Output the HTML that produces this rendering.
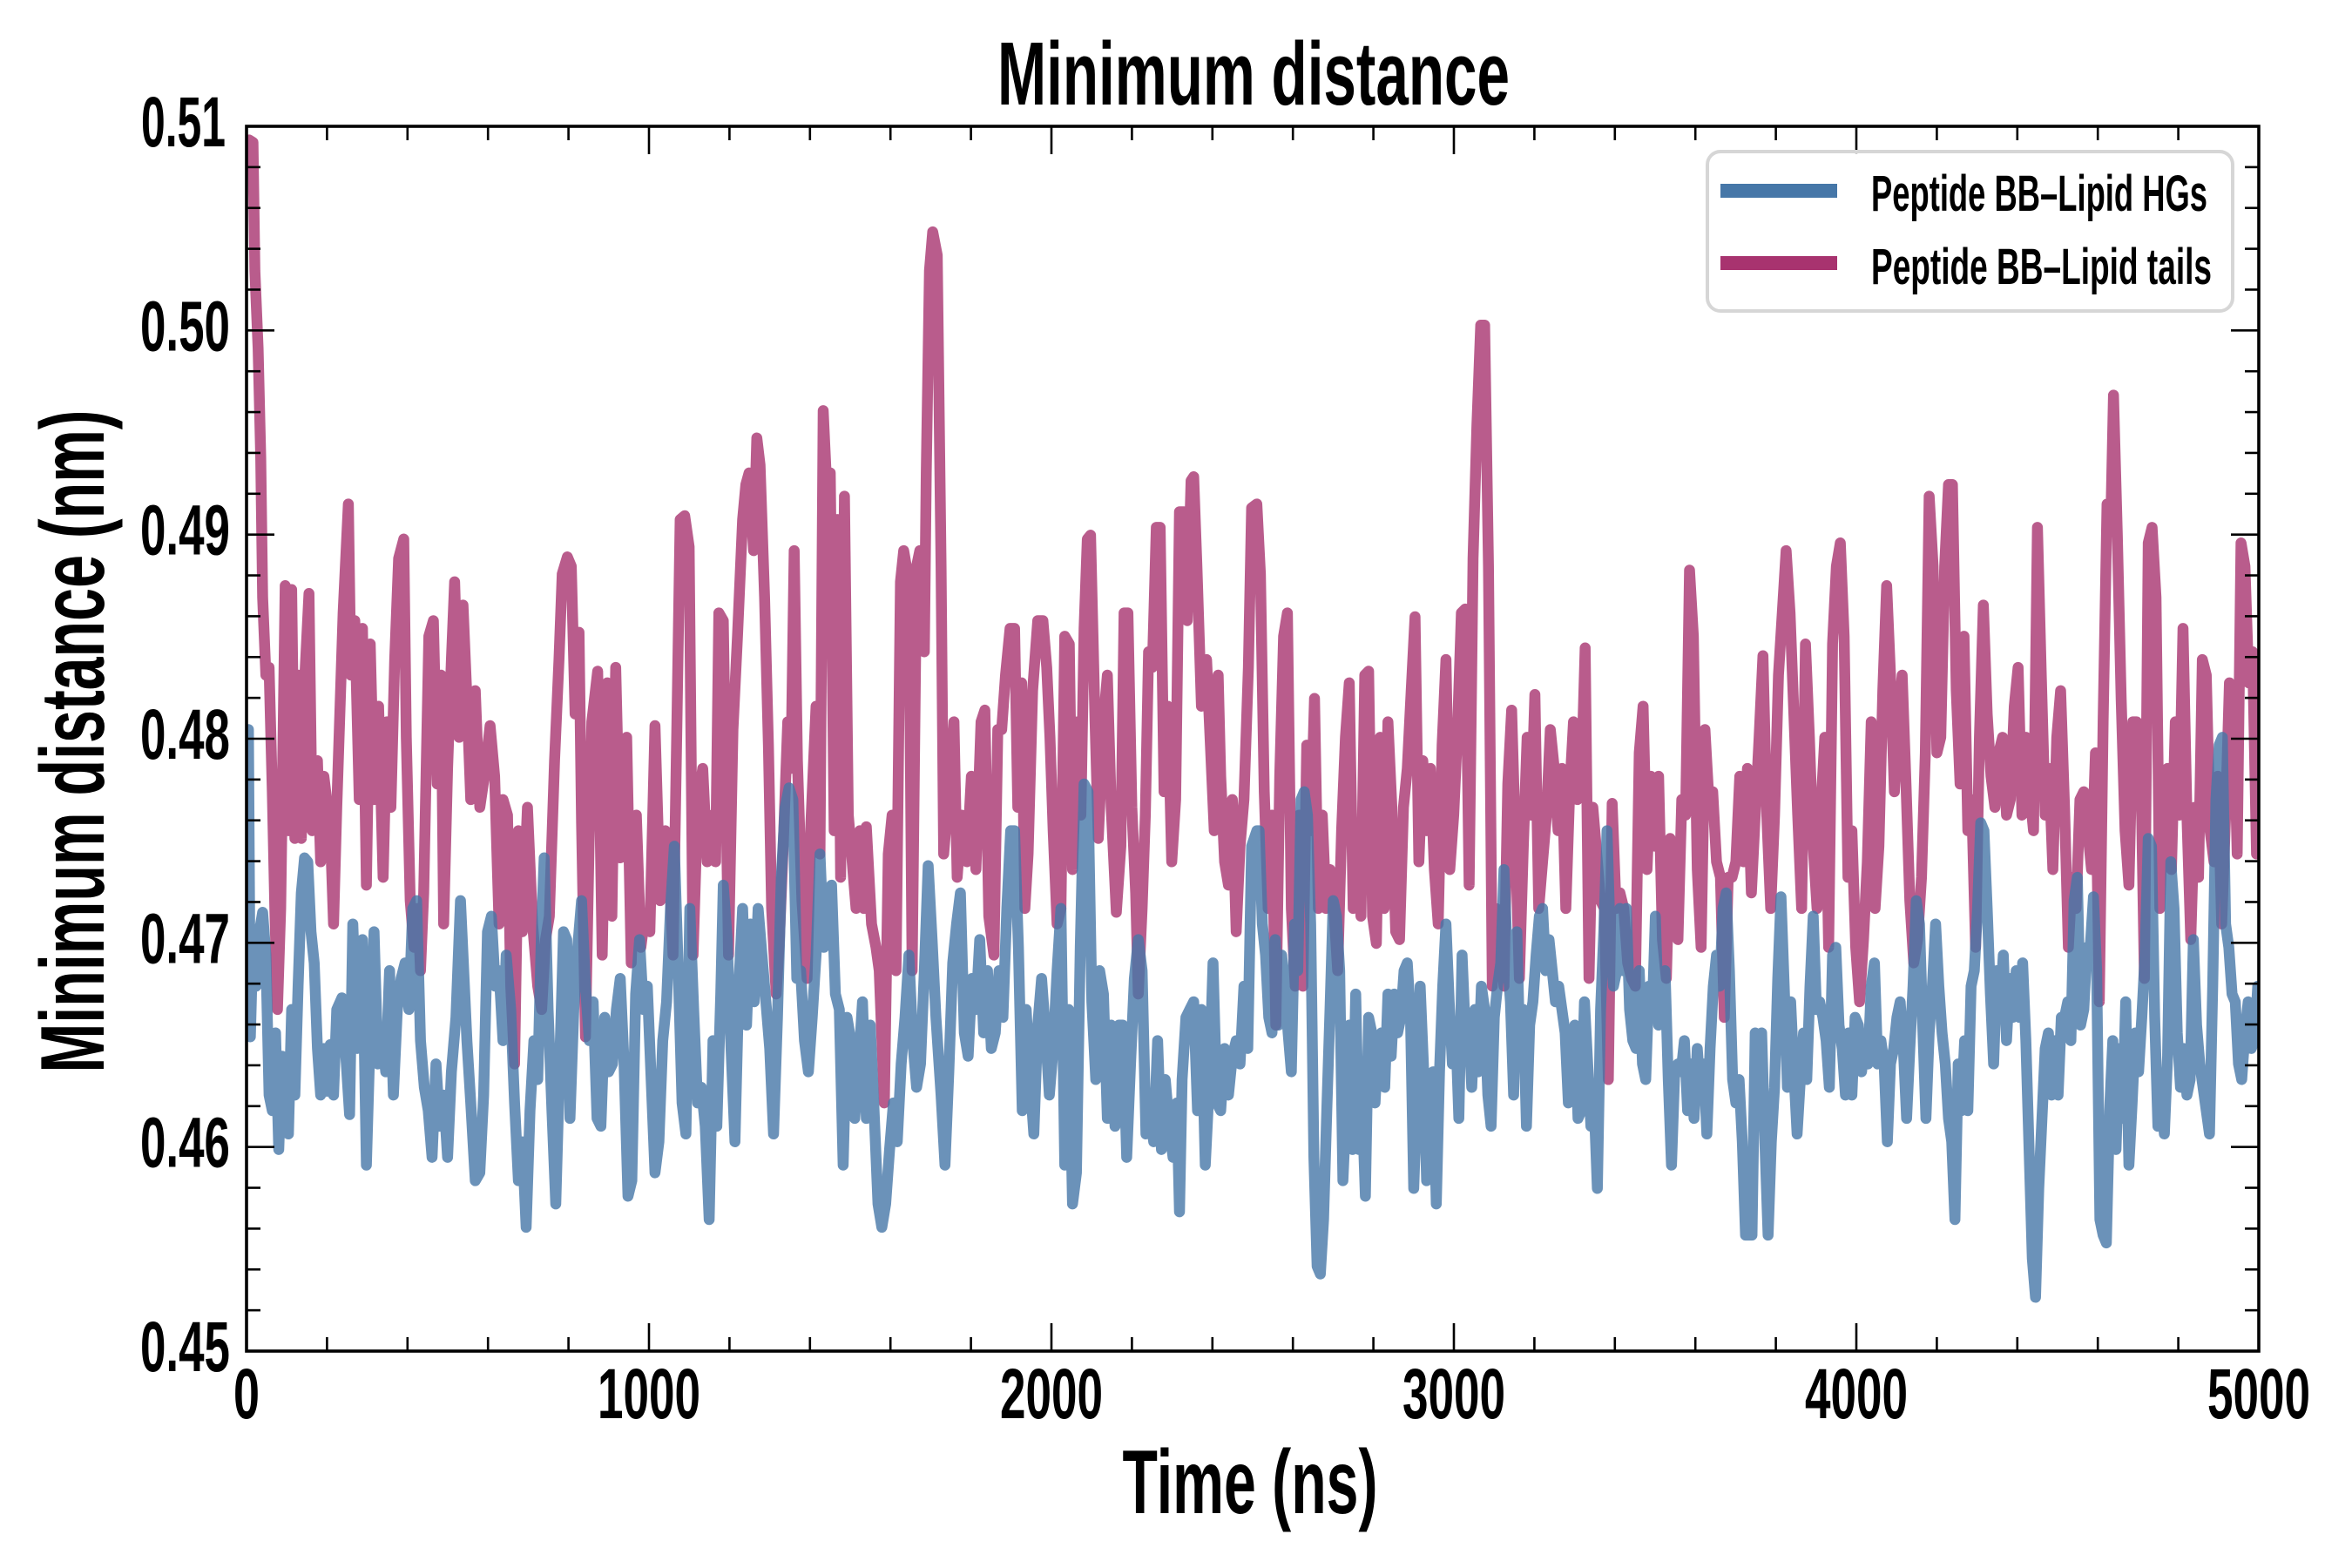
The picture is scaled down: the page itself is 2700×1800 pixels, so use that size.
<!DOCTYPE html>
<html>
<head>
<meta charset="utf-8">
<style>
html,body{margin:0;padding:0;background:#fff;}
svg{display:block;}
text{font-family:"Liberation Sans Narrow","Liberation Sans",sans-serif;font-weight:bold;fill:#000;}
</style>
</head>
<body>
<svg id="s" width="2700" height="1800" viewBox="0 0 2700 1800" xmlns="http://www.w3.org/2000/svg">
<defs><clipPath id="c"><rect x="283" y="145" width="2310" height="1406"/></clipPath></defs>
<rect width="2700" height="1800" fill="#fff"/>
<g clip-path="url(#c)">
<polyline id="pink" fill="none" stroke="#a8336f" stroke-opacity="0.8" stroke-width="12.5" stroke-linejoin="round" stroke-linecap="round" points=""/>
<polyline id="blue" fill="none" stroke="#4677a8" stroke-opacity="0.8" stroke-width="12.5" stroke-linejoin="round" stroke-linecap="round" points=""/>
</g>
<g id="ticks" stroke="#000" stroke-width="2.6"></g>
<rect x="283" y="145" width="2310" height="1406" fill="none" stroke="#000" stroke-width="3.6"/>
<!-- legend -->
<rect x="1960" y="174" width="603" height="183" rx="15" ry="15" fill="#fff" fill-opacity="0.8" stroke="#d6d6d6" stroke-width="4"/>
<rect x="1975" y="211" width="134" height="16" fill="#4677a8"/>
<rect x="1975" y="294" width="134" height="16" fill="#a8336f"/>
<text x="2148" y="242" font-size="58" textLength="386" lengthAdjust="spacingAndGlyphs">Peptide BB–Lipid HGs</text>
<text x="2148" y="326" font-size="58" textLength="391" lengthAdjust="spacingAndGlyphs">Peptide BB–Lipid tails</text>
<!-- titles -->
<text x="1439" y="120" font-size="103" text-anchor="middle" textLength="588" lengthAdjust="spacingAndGlyphs">Minimum distance</text>
<text x="1435" y="1737" font-size="104" text-anchor="middle" textLength="293" lengthAdjust="spacingAndGlyphs">Time (ns)</text>
<text transform="translate(119,851) rotate(-90)" x="0" y="0" font-size="104" text-anchor="middle" textLength="761" lengthAdjust="spacingAndGlyphs">Minimum distance (nm)</text>
<g id="labels"></g>
</svg>
<script>
(function(){
var NS="http://www.w3.org/2000/svg";
function conv(a,x0,minpx){var p=[];for(var i=0;i<a.length;i+=2){if(minpx!==undefined&&a[i]<minpx)continue;p.push((x0+a[i]/1.352).toFixed(1)+","+(150+a[i+1]/1.12).toFixed(1));}return p;}
var p9=[4,12,10,15,13,180,18,280,22,420,25,600,30,700,35,690,40,850,44,1000,48,1130,53,1000,60,585,65,900,70,590,75,910,80,700,85,910,90,710,97,595,102,900,110,810,115,940,120,830,130,900,135,1020,140,870,150,620,158,480,162,700,168,630,175,860,180,640,186,970,192,660,198,860,205,740,212,960,218,760,224,870,230,680,236,550,244,525,248,780,254,990,260,1050,266,1000,270,1080,275,980,283,650,290,630,296,840,302,700,306,1020,312,820,318,680,323,580,330,780,336,610,342,730,348,860,355,720,362,870,370,825,378,765,385,830,392,1020,398,860,405,880,410,1100,416,1200,422,900,428,1030,436,870,444,1020,452,1100,458,1130,464,1040,470,1010,478,810,485,680,490,570,498,548,504,560,510,750,516,645,520,890,526,1165,532,900,536,760,545,695,552,1060,560,710,567,1010,573,690,580,935,590,780,597,1070,605,880,612,1050,618,1010,626,1030,634,765,642,990,650,900,656,950,662,1060,668,760,673,500,680,495,687,535,693,1060,700,870,708,820,715,940,722,880,728,940,733,620,740,630,748,1060,755,770,762,650,770,500,775,455,780,440,787,540,792,395,797,430,804,600,810,790,815,1000,822,1110,827,1040,833,920,840,760,845,820,850,540,855,810,862,990,870,1090,876,890,884,740,890,930,895,360,900,450,906,440,912,900,917,500,922,960,928,470,934,880,940,940,946,1000,952,900,958,1000,962,895,970,1020,977,1050,982,1080,990,1250,996,930,1002,880,1008,1080,1015,580,1020,540,1028,580,1033,1080,1040,560,1045,540,1052,670,1055,440,1060,180,1065,130,1072,160,1078,560,1082,930,1090,850,1098,760,1103,960,1110,880,1118,940,1125,830,1132,950,1140,760,1146,745,1152,1010,1160,1060,1166,770,1172,770,1178,700,1185,640,1192,640,1197,870,1203,710,1208,1000,1213,930,1220,720,1228,630,1236,630,1242,690,1247,780,1252,900,1258,1020,1264,1000,1270,650,1277,660,1282,950,1290,760,1295,880,1300,640,1305,525,1310,520,1317,760,1322,910,1330,760,1336,700,1342,870,1350,1005,1357,920,1362,620,1368,620,1374,870,1380,980,1384,1110,1390,1000,1395,880,1400,670,1406,690,1412,510,1418,510,1424,850,1430,740,1436,940,1442,860,1448,490,1455,490,1460,630,1466,450,1470,445,1475,560,1482,740,1490,680,1496,790,1502,900,1508,700,1512,830,1518,940,1524,970,1530,860,1536,1030,1542,920,1548,860,1555,690,1560,485,1568,480];
var p10=[12,570,18,850,24,1000,30,880,36,1150,42,830,48,650,54,620,60,1000,66,1100,72,880,78,1100,84,790,90,900,96,730,102,1000,108,880,114,1000,120,950,126,1000,132,1080,138,900,144,780,150,710,156,1000,162,890,168,1010,174,700,180,695,186,1010,192,1045,198,780,204,1000,210,760,216,870,222,1030,228,1040,234,870,240,820,246,720,252,625,258,940,264,810,270,900,276,820,282,950,288,1020,294,790,300,680,306,950,312,880,318,770,324,620,330,615,336,970,342,550,348,380,354,250,360,250,366,560,372,1100,378,1000,384,1050,390,1100,396,840,402,745,408,920,414,1090,420,920,426,780,432,880,438,725,444,1000,450,940,456,880,462,770,468,820,474,900,480,820,486,1000,492,850,498,760,504,860,510,840,516,665,522,1090,528,870,534,930,540,990,546,1000,552,1220,558,865,564,1000,570,980,576,1000,582,1070,588,1090,594,1100,600,800,606,740,612,950,618,830,624,920,630,830,636,1040,642,1090,648,910,654,950,660,1040,666,860,672,880,678,565,684,650,690,950,696,1050,702,770,708,860,714,850,720,940,726,960,732,1140,738,960,744,960,750,940,756,830,762,940,768,820,774,980,780,880,786,780,792,675,798,880,804,1000,810,880,816,700,822,620,828,540,834,620,840,750,846,880,852,1000,858,660,864,780,870,920,876,1000,882,870,888,780,894,1050,900,660,906,560,912,530,918,650,924,960,930,900,936,1050,942,1120,948,1040,954,940,960,760,966,1000,972,920,978,720,984,585,990,700,996,850,1002,760,1008,700,1014,840,1020,990,1026,1070,1032,1040,1038,960,1044,800,1050,470,1056,560,1062,800,1068,780,1074,560,1080,455,1086,455,1092,720,1098,840,1104,650,1110,900,1116,860,1122,1050,1128,780,1134,610,1140,750,1146,830,1152,870,1158,800,1164,780,1170,880,1176,860,1182,740,1188,690,1194,880,1200,780,1206,850,1212,900,1218,510,1224,700,1230,880,1236,820,1242,950,1248,780,1254,720,1260,870,1266,1050,1272,960,1278,1000,1284,860,1290,850,1296,900,1302,950,1308,800,1314,1120,1320,760,1326,480,1332,500,1336,340,1342,520,1348,730,1354,900,1360,970,1366,760,1372,760,1378,790,1384,1090,1390,530,1396,510,1402,600,1408,1000,1414,850,1420,820,1426,950,1432,760,1438,880,1444,640,1450,880,1456,1040,1462,870,1468,960,1474,680,1480,700,1486,900,1492,940,1498,830,1504,1020,1510,880,1516,710,1522,720,1528,930,1534,530,1540,560,1546,710,1552,670,1558,930,1564,860,1572,800];
var b9=[3,770,6,1165,10,1040,15,1100,20,1030,25,1005,30,1060,35,1240,40,1260,45,1160,50,1310,55,1190,60,1200,65,1290,70,1130,75,1240,80,1100,85,980,90,935,95,940,100,1030,105,1070,110,1180,115,1240,120,1180,125,1235,130,1175,135,1240,140,1130,148,1115,155,1200,160,1265,165,1020,172,1180,180,1040,186,1330,192,1160,198,1030,204,1200,210,1160,216,1210,222,1080,228,1240,234,1130,240,1090,246,1070,252,1130,258,1000,264,990,270,1170,276,1230,282,1260,288,1320,294,1200,300,1280,306,1240,312,1320,318,1210,325,1140,332,990,336,1060,342,1170,348,1250,355,1350,362,1340,368,1240,374,1030,380,1010,386,1100,392,1080,398,1170,403,1060,410,1130,416,1250,422,1350,428,1300,434,1410,440,1260,446,1170,452,1220,458,1020,462,935,468,1130,474,1260,480,1380,486,1200,492,1030,497,1040,502,1270,508,1130,514,1050,520,990,526,1100,532,1170,538,1120,544,1270,550,1280,556,1140,562,1210,568,1200,574,1130,580,1090,586,1200,592,1370,598,1350,604,1110,610,1040,616,1130,622,1100,628,1220,634,1340,640,1300,646,1170,652,1120,658,1000,664,920,670,1080,676,1250,682,1290,688,1000,694,1130,700,1250,706,1230,712,1280,718,1400,724,1170,730,1280,736,1110,740,970,746,1040,752,1180,758,1300,764,1100,770,1000,776,1150,782,1020,788,1120,794,1000,800,1060,806,1120,812,1180,818,1290,824,1140,830,960,836,870,842,845,848,860,854,1090,860,1080,866,1170,872,1210,878,1140,884,1060,890,930,896,1050,902,1040,908,970,914,1110,920,1130,926,1330,932,1140,938,1170,944,1270,950,1200,956,1120,962,1270,968,1150,974,1260,980,1380,986,1410,992,1380,998,1310,1004,1250,1010,1300,1016,1200,1022,1140,1028,1060,1034,1170,1040,1230,1046,1200,1052,1080,1058,945,1064,1040,1070,1140,1078,1240,1084,1330,1090,1210,1096,1070,1102,1020,1108,980,1114,1160,1120,1190,1126,1090,1132,1130,1138,1040,1144,1160,1150,1080,1156,1180,1162,1160,1168,1080,1174,1140,1180,1000,1186,900,1192,900,1198,1050,1204,1260,1210,1130,1216,1220,1222,1290,1228,1150,1234,1090,1240,1160,1246,1240,1252,1180,1258,1080,1264,1000,1270,1330,1276,1130,1282,1380,1288,1340,1294,1050,1300,840,1306,850,1312,1120,1318,1220,1324,1080,1330,1110,1336,1270,1342,1150,1348,1280,1354,1150,1360,1150,1366,1320,1372,1200,1378,1090,1384,1040,1390,1080,1396,1290,1402,1260,1408,1300,1414,1170,1420,1310,1426,1220,1432,1280,1438,1320,1444,1250,1448,1390,1452,1220,1458,1140,1464,1130,1470,1120,1476,1260,1482,1130,1488,1330,1494,1230,1500,1070,1506,1250,1512,1260,1518,1180,1524,1240,1530,1190,1536,1170,1542,1200,1548,1100,1554,1180,1560,920,1568,900];
var b10=[10,900,15,1020,20,1060,25,1140,30,1160,35,1040,40,1150,45,1060,50,1100,55,1160,60,1210,65,1020,70,1080,75,860,80,850,85,880,90,1020,95,1320,100,1460,105,1470,110,1400,115,1260,120,1130,125,990,130,1010,135,1080,140,1350,145,1260,150,1150,155,1310,160,1110,165,1310,170,1250,175,1370,180,1140,185,1160,190,1250,195,1170,200,1160,205,1230,210,1110,215,1190,220,1110,225,1160,230,1140,235,1080,240,1070,245,1140,250,1360,255,1240,260,1100,265,1200,270,1350,275,1270,280,1210,285,1380,290,1210,295,1100,300,1020,305,1120,310,1200,315,1150,320,1270,325,1060,330,1160,335,1140,340,1230,345,1130,350,1210,355,1100,360,1130,365,1240,370,1280,375,1140,380,1100,385,1070,390,950,395,1060,400,1120,405,1240,410,1030,415,1200,420,1130,425,1280,430,1150,435,1120,440,1060,445,1010,450,1000,455,1080,460,1040,465,1080,470,1120,475,1100,480,1130,485,1160,490,1250,495,1220,500,1150,505,1270,510,1260,515,1120,520,1200,525,1280,530,1250,535,1360,540,1130,545,1030,550,900,555,1040,560,1100,565,1080,570,1000,575,1080,580,1000,585,1130,590,1170,595,1180,600,1080,605,1200,610,1220,615,1100,620,1140,625,1010,630,1150,635,1100,640,1080,645,1220,650,1330,655,1210,660,1200,665,1210,670,1170,675,1260,680,1200,685,1270,690,1180,695,1240,700,1200,705,1290,710,1180,715,1100,720,1060,725,1100,730,1000,735,980,740,1080,745,1220,750,1250,755,1220,760,1300,765,1420,770,1420,775,1420,780,1160,785,1270,790,1160,795,1300,800,1420,805,1300,810,1230,815,1090,820,985,825,1100,830,1230,835,1120,840,1210,845,1290,850,1220,855,1160,860,1220,865,1100,870,1010,875,1130,880,1120,885,1140,890,1170,895,1230,900,1060,905,1050,910,1150,915,1180,920,1240,925,1160,930,1240,935,1140,940,1150,945,1210,950,1170,955,1200,960,1100,965,1070,970,1200,975,1170,980,1200,985,1300,990,1200,995,1180,1000,1140,1005,1120,1010,1180,1015,1270,1020,1180,1025,1100,1030,990,1035,1020,1040,1150,1045,1270,1050,1160,1055,1100,1060,1020,1065,1100,1070,1160,1075,1200,1080,1270,1085,1300,1090,1400,1095,1200,1100,1260,1105,1170,1110,1260,1115,1100,1120,1080,1125,1000,1130,890,1135,900,1140,1000,1145,1110,1150,1200,1155,1080,1160,1130,1165,1060,1170,1170,1175,1090,1180,1140,1185,1080,1190,1140,1195,1070,1200,1170,1205,1310,1210,1450,1215,1500,1220,1360,1225,1270,1230,1180,1235,1160,1240,1240,1245,1170,1250,1240,1255,1140,1260,1140,1265,1120,1270,1170,1275,990,1280,960,1285,1150,1290,1130,1295,1050,1300,1050,1305,985,1310,1080,1315,1400,1320,1420,1325,1430,1330,1260,1335,1170,1340,1310,1345,1180,1350,1270,1355,1120,1360,1330,1365,1250,1370,1160,1375,1210,1380,1140,1385,1060,1390,910,1395,920,1400,1140,1405,1280,1410,1240,1415,1290,1420,1190,1425,940,1430,1000,1435,1160,1440,1230,1445,1180,1450,1240,1455,1220,1460,1040,1465,1150,1470,1200,1475,1230,1480,1260,1485,1290,1490,1100,1495,860,1500,790,1505,780,1510,1020,1515,1050,1520,1110,1525,1120,1530,1200,1535,1220,1540,1160,1545,1120,1550,1180,1555,1170,1560,1100,1566,1130,1572,1120];
document.getElementById("pink").setAttribute("points",conv(p9,283).concat(conv(p10,1438,8)).join(" "));
document.getElementById("blue").setAttribute("points",conv(b9,283).concat(conv(b10,1438,8)).join(" "));
var tg=document.getElementById("ticks"),lg=document.getElementById("labels");
function line(x1,y1,x2,y2){var l=document.createElementNS(NS,"line");l.setAttribute("x1",x1);l.setAttribute("y1",y1);l.setAttribute("x2",x2);l.setAttribute("y2",y2);tg.appendChild(l);}
function txt(x,y,s,anchor,len){var t=document.createElementNS(NS,"text");t.setAttribute("x",x);t.setAttribute("y",y);t.setAttribute("font-size","82");t.setAttribute("text-anchor",anchor);t.setAttribute("textLength",len);t.setAttribute("lengthAdjust","spacingAndGlyphs");t.textContent=s;lg.appendChild(t);}
var L=283,R=2593,T=145,B=1551;
for(var t=0;t<=5000;t+=200){var x=L+t/5000*(R-L);var maj=(t%1000===0);var len=maj?32:16;line(x,B,x,B-len);line(x,T,x,T+len);
 if(maj){var s=String(t);txt(x,1628,s,"middle",s.length===1?30:118);}}
for(var k=0;k<=30;k++){var y=B-k/30*(B-T);var maj=(k%5===0);var len=maj?32:16;line(L,y,L+len,y);line(R,y,R-len,y);
 if(maj){var v=(0.45+k*0.002).toFixed(2);txt(v==="0.51"?259:264,y+23,v,"end",v==="0.51"?97:103);}}
})();
</script>
</body>
</html>
